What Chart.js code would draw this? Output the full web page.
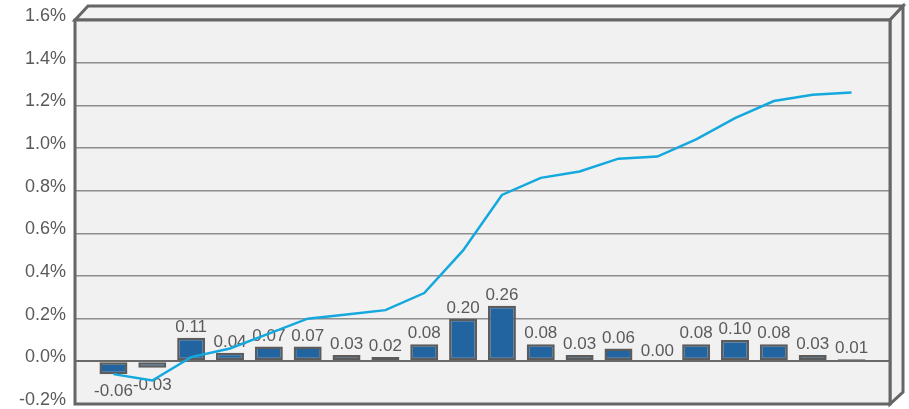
<!DOCTYPE html>
<html>
<head>
<meta charset="utf-8">
<script src="https://cdn.jsdelivr.net/npm/chart.js@4/dist/chart.umd.min.js"></script>
<style>
  html, body { margin: 0; padding: 0; background: #fff; }
  #wrap { width: 909px; height: 409px; }
</style>
</head>
<body>
<div id="wrap"><canvas id="chart" width="909" height="409"></canvas></div>
<script>
// one entry per period, no axis labels in the source
const periods = ['1', '2', '3', '4', '5', '6', '7', '8', '9', '10',
                 '11', '12', '13', '14', '15', '16', '17', '18', '19', '20'];
// monthly change (%), bars
const monthly = [-0.06, -0.03, 0.11, 0.04, 0.07, 0.07, 0.03, 0.02, 0.08, 0.20,
                 0.26, 0.08, 0.03, 0.06, 0.00, 0.08, 0.10, 0.08, 0.03, 0.01];
// cumulative change (%), line
const cumulative = [-0.06, -0.09, 0.02, 0.06, 0.13, 0.20, 0.22, 0.24, 0.32, 0.52,
                    0.78, 0.86, 0.89, 0.95, 0.96, 1.04, 1.14, 1.22, 1.25, 1.26];
const yTicks = [-0.2, 0.0, 0.2, 0.4, 0.6, 0.8, 1.0, 1.2, 1.4, 1.6];

const FONT = '"Liberation Sans", Arial, sans-serif';
const TEXT = '#5a5a5a';
const EDGE = '#666666';
const DEPTH_X = 13;
const DEPTH_Y = 14;

// 3D-looking box behind and round the plot area
const boxPlugin = {
  id: 'box',
  beforeDraw(chart) {
    const { ctx, chartArea: a } = chart;
    ctx.save();
    ctx.fillStyle = '#fff';
    ctx.fillRect(0, 0, chart.width, chart.height);

    ctx.fillStyle = '#f2f2f2';
    ctx.strokeStyle = EDGE;
    ctx.lineWidth = 3;
    ctx.lineJoin = 'miter';

    // top face
    ctx.beginPath();
    ctx.moveTo(a.left, a.top);
    ctx.lineTo(a.left + DEPTH_X, a.top - DEPTH_Y);
    ctx.lineTo(a.right + DEPTH_X, a.top - DEPTH_Y);
    ctx.lineTo(a.right, a.top);
    ctx.closePath();
    ctx.fill();
    ctx.stroke();

    // right face
    ctx.beginPath();
    ctx.moveTo(a.right, a.top);
    ctx.lineTo(a.right + DEPTH_X, a.top - DEPTH_Y);
    ctx.lineTo(a.right + DEPTH_X, a.bottom - DEPTH_Y + 2);
    ctx.lineTo(a.right, a.bottom);
    ctx.closePath();
    ctx.fill();
    ctx.stroke();

    // front face
    ctx.fillStyle = '#f1f1f1';
    ctx.fillRect(a.left, a.top, a.right - a.left, a.bottom - a.top);
    ctx.restore();
  },
  afterDraw(chart) {
    const { ctx, chartArea: a } = chart;
    ctx.save();
    ctx.strokeStyle = EDGE;
    ctx.lineWidth = 3;
    ctx.strokeRect(a.left, a.top, a.right - a.left, a.bottom - a.top);
    ctx.restore();
  }
};

// value labels over / under the bars, drawn before the line
const barLabels = {
  id: 'barLabels',
  afterDatasetDraw(chart, args) {
    if (args.index !== 0) return;
    const { ctx } = chart;
    const meta = chart.getDatasetMeta(0);
    ctx.save();
    ctx.font = '17px ' + FONT;
    ctx.fillStyle = TEXT;
    ctx.textAlign = 'center';
    meta.data.forEach((bar, i) => {
      const v = monthly[i];
      const txt = v.toFixed(2);
      if (v < 0) {
        ctx.textBaseline = 'top';
        ctx.fillText(txt, bar.x, bar.y + 9);
      } else {
        ctx.textBaseline = 'bottom';
        ctx.fillText(txt, bar.x, bar.y - 2);
      }
    });
    ctx.restore();
  }
};

new Chart(document.getElementById('chart'), {
  data: {
    labels: periods,
    datasets: [
      {
        type: 'bar',
        label: 'Monthly',
        data: monthly.map((v, i) => ({ x: i, y: v })),
        backgroundColor: '#21649f',
        borderColor: '#5c5c5c',
        borderWidth: 2.5,
        borderSkipped: false,
        barPercentage: 0.72,
        categoryPercentage: 1,
        order: 1
      },
      {
        type: 'line',
        label: 'Cumulative',
        data: cumulative.map((v, i) => ({ x: i, y: v })),
        borderColor: '#14a8de',
        borderWidth: 2.5,
        pointRadius: 0,
        tension: 0,
        fill: false,
        order: 0
      }
    ]
  },
  options: {
    responsive: false,
    animation: false,
    devicePixelRatio: 1,
    layout: { autoPadding: false, padding: { top: 20, right: 19, bottom: 5, left: 0 } },
    plugins: {
      legend: { display: false },
      tooltip: { enabled: false }
    },
    scales: {
      x: {
        type: 'linear',
        min: -0.99,
        max: 19.99,
        offset: false,
        display: false
      },
      y: {
        min: -0.2,
        max: 1.6,
        afterFit(scale) {
          scale.width = 75;
          scale.paddingTop = 0;
          scale.paddingBottom = 0;
        },
        afterBuildTicks(scale) {
          scale.ticks = yTicks.map(v => ({ value: v }));
        },
        border: { display: false },
        grid: {
          drawTicks: false,
          color: ctx => Math.abs(ctx.tick.value) < 1e-9 ? '#6a6a6a' : '#8e8e8e',
          lineWidth: ctx => Math.abs(ctx.tick.value) < 1e-9 ? 2 : 1.5
        },
        ticks: {
          color: TEXT,
          font: { family: FONT, size: 18 },
          padding: 9,
          labelOffset: -4,
          callback: v => v.toFixed(1) + '%'
        }
      }
    }
  },
  plugins: [boxPlugin, barLabels]
});
</script>
</body>
</html>
